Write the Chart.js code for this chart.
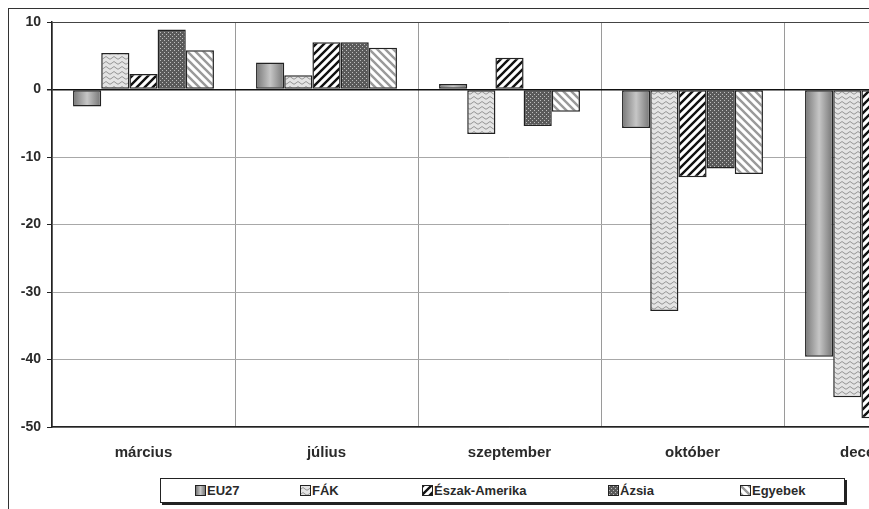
<!DOCTYPE html>
<html lang="hu">
<head>
  <meta charset="UTF-8" />
  <title>Változás</title>
  <script src="https://cdn.jsdelivr.net/npm/chart.js"></script>
  <style>
    body { margin: 0; width: 869px; height: 509px; overflow: hidden; background: #fff; font-family: "Liberation Sans", Arial, sans-serif; }
    #frame { position: absolute; left: 8px; top: 8px; width: 1000px; height: 600px; border: 1px solid #333; }
    #wrap { position: absolute; left: 0; top: 0; width: 1000px; height: 470px; }
    #legend { position: absolute; left: 160px; top: 478px; width: 683px; height: 23px; border: 1px solid #222; box-shadow: 2px 2px 0 #222; background: #fff; }
    .item { position: absolute; top: 4px; font-size: 13px; font-weight: bold; color: #2a2a2a; display: flex; align-items: center; }
    .item canvas { width: 9px; height: 9px; border: 1px solid #222; margin-right: 1px; }
  </style>
</head>
<body>
  <div id="frame"></div>
  <div id="wrap"><canvas id="chart"></canvas></div>
  <div id="legend"></div>

  <script>
    // adatok
    const categories = ['március', 'július', 'szeptember', 'október', 'december'];
    const seriesNames = ['EU27', 'FÁK', 'Észak-Amerika', 'Ázsia', 'Egyebek'];
    const eu27 = [-2.5, 4.0, 0.8, -5.7, -39.6];
    const fak = [5.4, 2.1, -6.6, -32.8, -45.6];
    const eszakAmerika = [2.3, 7.0, 4.7, -13.0, -48.7];
    const azsia = [8.9, 7.0, -5.4, -11.7, -40.0];
    const egyebek = [5.8, 6.2, -3.3, -12.5, -44.0];
    const yTicks = [10, 0, -10, -20, -30, -40, -50];

    // mintázatok
    function tile(w, h, draw) {
      const c = document.createElement('canvas');
      c.width = w; c.height = h;
      const g = c.getContext('2d');
      draw(g, w, h);
      return c;
    }
    const wavy = tile(8, 5, (g, w, h) => {
      g.fillStyle = '#e4e4e4'; g.fillRect(0, 0, w, h);
      g.strokeStyle = '#959595'; g.lineWidth = 1;
      g.beginPath(); g.moveTo(0, 3); g.quadraticCurveTo(2, 0, 4, 3); g.quadraticCurveTo(6, 5.5, 8, 3); g.stroke();
    });
    const slash = tile(8, 8, (g, w, h) => {
      g.fillStyle = '#fff'; g.fillRect(0, 0, w, h);
      g.strokeStyle = '#111'; g.lineWidth = 2.4;
      g.beginPath();
      g.moveTo(-2, 10); g.lineTo(10, -2);
      g.moveTo(-2, 2); g.lineTo(2, -2);
      g.moveTo(6, 10); g.lineTo(10, 6);
      g.stroke();
    });
    const dots = tile(4, 4, (g, w, h) => {
      g.fillStyle = '#5a5a5a'; g.fillRect(0, 0, w, h);
      g.fillStyle = '#bdbdbd'; g.fillRect(0, 0, 1, 1); g.fillRect(2, 2, 1, 1);
    });
    const backslash = tile(8, 8, (g, w, h) => {
      g.fillStyle = '#fff'; g.fillRect(0, 0, w, h);
      g.strokeStyle = '#9a9a9a'; g.lineWidth = 2.4;
      g.beginPath();
      g.moveTo(-2, -2); g.lineTo(10, 10);
      g.moveTo(6, -2); g.lineTo(10, 2);
      g.moveTo(-2, 6); g.lineTo(2, 10);
      g.stroke();
    });

    const ctx = document.getElementById('chart').getContext('2d');
    const fills = [
      '#a0a0a0',
      ctx.createPattern(wavy, 'repeat'),
      ctx.createPattern(slash, 'repeat'),
      ctx.createPattern(dots, 'repeat'),
      ctx.createPattern(backslash, 'repeat')
    ];

    // EU27 oszlopok: vízszintes színátmenet
    const gradientBars = {
      id: 'gradientBars',
      beforeDatasetDraw(chart, args) {
        if (args.index !== 0) return;
        const c = chart.ctx;
        chart.getDatasetMeta(0).data.forEach(el => {
          const g = c.createLinearGradient(el.x - el.width / 2, 0, el.x + el.width / 2, 0);
          g.addColorStop(0, '#777');
          g.addColorStop(0.5, '#c6c6c6');
          g.addColorStop(1, '#737373');
          el.options.backgroundColor = g;
        });
      }
    };

    const allData = [eu27, fak, eszakAmerika, azsia, egyebek];
    const tickFont = { family: 'Liberation Sans', weight: 'bold' };

    new Chart(ctx, {
      type: 'bar',
      data: {
        labels: categories,
        datasets: seriesNames.map((name, i) => ({
          label: name,
          data: allData[i],
          backgroundColor: i === 0 ? () => '#a0a0a0' : fills[i],
          borderColor: '#222',
          borderWidth: 1.5,
          borderSkipped: false,
          barPercentage: 1,
          categoryPercentage: 0.77
        }))
      },
      plugins: [gradientBars],
      options: {
        responsive: true,
        maintainAspectRatio: false,
        animation: false,
        layout: { padding: { left: 0, top: 22, right: 33, bottom: 0 } },
        plugins: { legend: { display: false }, tooltip: { enabled: false } },
        scales: {
          x: {
            grid: { offset: true, color: '#9a9a9a', drawTicks: false },
            border: { color: '#222', width: 1.5 },
            ticks: { padding: 17, color: '#2a2a2a', font: { ...tickFont, size: 15 } },
            afterFit(s) { s.height = 43; }
          },
          y: {
            min: -50, max: 10,
            afterBuildTicks(s) { s.ticks = yTicks.map(v => ({ value: v })); },
            grid: {
              color: c => c.tick.value === 0 ? '#111' : (c.tick.value === 10 ? '#444' : '#a8a8a8'),
              lineWidth: c => c.tick.value === 0 ? 1.5 : 1,
              tickLength: 5,
              tickColor: '#222'
            },
            border: { color: '#222', width: 1.5 },
            ticks: { padding: 6, color: '#2a2a2a', font: { ...tickFont, size: 14 } },
            afterFit(s) { s.width = 52; }
          }
        }
      }
    });

    // jelmagyarázat
    const legendX = [34, 139, 261, 447, 579];
    const legendFills = ['#a0a0a0', wavy, slash, dots, backslash];
    const legend = document.getElementById('legend');
    seriesNames.forEach((name, i) => {
      const item = document.createElement('div');
      item.className = 'item';
      item.style.left = legendX[i] + 'px';
      const sw = document.createElement('canvas');
      sw.width = 9; sw.height = 9;
      const g = sw.getContext('2d');
      if (i === 0) {
        const gr = g.createLinearGradient(0, 0, 9, 0);
        gr.addColorStop(0, '#777'); gr.addColorStop(0.5, '#c6c6c6'); gr.addColorStop(1, '#777');
        g.fillStyle = gr;
      } else {
        g.fillStyle = g.createPattern(legendFills[i], 'repeat');
      }
      g.fillRect(0, 0, 9, 9);
      item.appendChild(sw);
      item.appendChild(document.createTextNode(name));
      legend.appendChild(item);
    });
  </script>
</body>
</html>
